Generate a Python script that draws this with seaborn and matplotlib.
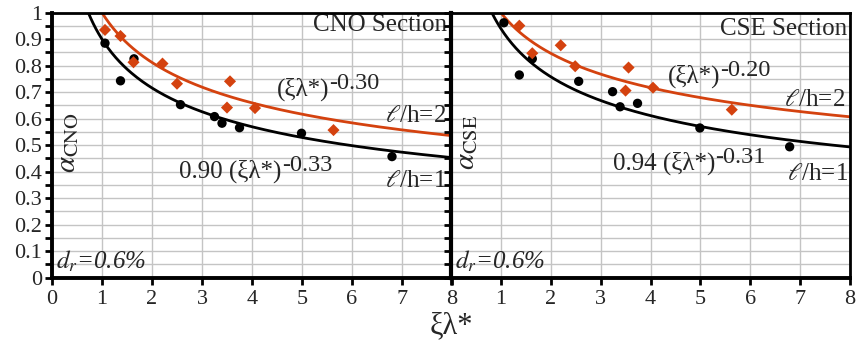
import numpy as np
import pandas as pd
import matplotlib
matplotlib.use("Agg")
import matplotlib.pyplot as plt
import seaborn as sns

# Data
# CNO section
cno_x1 = [1.06, 1.37, 1.64, 2.57, 3.25, 3.40, 3.75, 4.99, 6.80]
cno_y1 = [0.885, 0.743, 0.826, 0.653, 0.608, 0.583, 0.566, 0.545, 0.457]
cno_x2 = [1.06, 1.37, 1.63, 2.21, 2.50, 3.56, 3.50, 4.06, 5.63]
cno_y2 = [0.935, 0.912, 0.813, 0.808, 0.732, 0.741, 0.642, 0.640, 0.557]
# CSE section
cse_x1 = [1.06, 1.37, 1.63, 2.56, 3.24, 3.39, 3.74, 4.99, 6.79]
cse_y1 = [0.962, 0.765, 0.826, 0.741, 0.702, 0.645, 0.658, 0.565, 0.494]
cse_x2 = [1.37, 1.63, 2.20, 2.49, 3.56, 3.50, 4.05, 5.63]
cse_y2 = [0.951, 0.847, 0.877, 0.798, 0.793, 0.706, 0.717, 0.634]

# power-law curves a * (xi lambda*)^b as drawn in the picture
cno_fit1 = (0.90, -0.33)
cno_fit2 = (1.00, -0.30)
cse_fit1 = (0.94, -0.31)
cse_fit2 = (1.00, -0.24)  # drawn curve sits below the printed -0.20

x_ticks = [0, 1, 2, 3, 4, 5, 6, 7, 8]
y_ticks = [0, 0.1, 0.2, 0.3, 0.4, 0.5, 0.6, 0.7, 0.8, 0.9, 1]
y_labels = ["0", "0.1", "0.2", "0.3", "0.4", "0.5", "0.6", "0.7", "0.8", "0.9", "1"]
y_minor = [0.05, 0.15, 0.25, 0.35, 0.45, 0.55, 0.65, 0.75, 0.85, 0.95]

BLACK = "black"
ORANGE = "#D4420F"

sns.set_style("white")
plt.rcParams["font.family"] = ["Liberation Serif", "DejaVu Serif"]
plt.rcParams["mathtext.fontset"] = "stix"

fig = plt.figure(figsize=(8.58, 3.42), dpi=100)
ax1 = fig.add_axes([52 / 858, 64.3 / 342, 400 / 858, 265 / 342])
ax2 = fig.add_axes([451 / 858, 64.3 / 342, 399 / 858, 265 / 342])

xs = np.linspace(0.3, 8.2, 300)


def draw_panel(ax, x1, y1, x2, y2, fit1, fit2):
    ax.set_xticks(x_ticks)
    ax.set_yticks(y_ticks)
    ax.set_yticks(y_minor, minor=True)
    ax.grid(True, which="both", color="#c4c4c4", lw=1.0)
    ax.set_axisbelow(True)
    for fit, col in [(fit1, BLACK), (fit2, ORANGE)]:
        df = pd.DataFrame({"x": xs, "y": fit[0] * xs ** fit[1]})
        sns.lineplot(data=df, x="x", y="y", ax=ax, color=col, lw=2.0, zorder=3)
    sns.scatterplot(x=x1, y=y1, ax=ax, color=BLACK, marker="o", s=45,
                    edgecolor="none", zorder=4)
    sns.scatterplot(x=x2, y=y2, ax=ax, color=ORANGE, marker="D", s=38,
                    edgecolor="none", zorder=4)
    ax.set_xlim(0, 8)
    ax.set_ylim(0, 1)
    ax.tick_params(axis="both", which="both", direction="out", length=5,
                   width=2, labelsize=16, pad=2, color="black",
                   left=True, bottom=True)
    ax.tick_params(axis="x", which="major", pad=4)
    ax.set_xlabel("")
    ax.set_ylabel("")
    for s in ["left", "bottom"]:
        ax.spines[s].set_linewidth(2.8)
    for s in ["top", "right"]:
        ax.spines[s].set_linewidth(2.0)
    for s in ax.spines.values():
        s.set_color("black")
        s.set_zorder(5)


def power_label(ax, x, y, base, expo, size=18):
    t = ax.text(x, y, base, ha="left", va="center", fontsize=size)
    ax.annotate(expo, xy=(1.0, 0.3), xycoords=t, ha="left", va="bottom",
                fontsize=size - 0.5)


draw_panel(ax1, cno_x1, cno_y1, cno_x2, cno_y2, cno_fit1, cno_fit2)
draw_panel(ax2, cse_x1, cse_y1, cse_x2, cse_y2, cse_fit1, cse_fit2)

ax1.set_yticklabels(y_labels)
ax1.set_xticklabels([str(i) for i in x_ticks])
ax2.set_yticklabels([])
ax2.set_xticklabels([""] + [str(i) for i in x_ticks[1:]])
ax2.spines["left"].set_linewidth(3.0)

# panel texts
ax1.text(7.9, 0.955, "CNO Section", ha="right", va="center", fontsize=18)
power_label(ax1, 4.5, 0.71, "(ξλ*)", "-0.30")
ax1.text(7.88, 0.61, r"$\ell$/h=2", ha="right", va="center", fontsize=18)
power_label(ax1, 2.55, 0.40, "0.90 (ξλ*)", "-0.33")
ax1.text(7.88, 0.365, r"$\ell$/h=1", ha="right", va="center", fontsize=18)
ax1.text(0.08, 0.06, r"$d_r$=0.6%", ha="left", va="center", fontsize=18, style="italic")
ax1.text(0.32, 0.51, r"$\alpha_{\mathrm{CNO}}$", rotation=90, ha="center", va="center", fontsize=21)

ax2.text(7.95, 0.94, "CSE Section", ha="right", va="center", fontsize=18)
power_label(ax2, 4.35, 0.76, "(ξλ*)", "-0.20")
ax2.text(7.9, 0.67, r"$\ell$/h=2", ha="right", va="center", fontsize=18)
power_label(ax2, 3.25, 0.43, "0.94 (ξλ*)", "-0.31")
ax2.text(7.95, 0.39, r"$\ell$/h=1", ha="right", va="center", fontsize=18)
ax2.text(0.08, 0.06, r"$d_r$=0.6%", ha="left", va="center", fontsize=18, style="italic")
ax2.text(0.32, 0.51, r"$\alpha_{\mathrm{CSE}}$", rotation=90, ha="center", va="center", fontsize=21)

fig.text(451 / 858, 1 - 326 / 342, "ξλ*", ha="center", va="center", fontsize=22)

fig.savefig("out.png", dpi=100)
